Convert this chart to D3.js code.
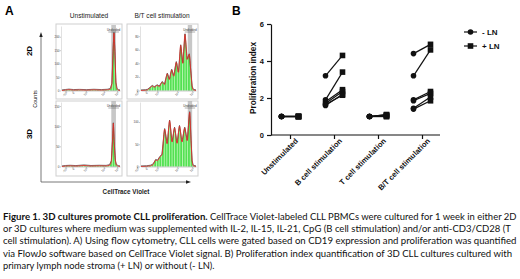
<!DOCTYPE html>
<html>
<head>
<meta charset="utf-8" />
<title>Figure 1</title>
<script src="https://cdn.jsdelivr.net/npm/d3@7"></script>
<style>
  body { margin: 0; background: #fff; }
  svg { display: block; }
</style>
</head>
<body>
<script>
// panel B data
var categories = ['Unstimulated', 'B cell stimulation', 'T cell stimulation', 'B/T cell stimulation'];
var minusLN = [
  [1, 1, 1, 1, 1, 1],
  [3.2, 1.9, 1.8, 1.7, 1.6, 1.65],
  [1, 1, 1, 1, 1, 1],
  [4.4, 3.2, 1.9, 1.85, 1.45, 1.4]
];
var plusLN = [
  [1, 1, 1, 1, 1, 1],
  [4.3, 3.4, 2.45, 2.35, 2.2, 2.15],
  [1.0, 1.05, 1.1, 1.05, 1.0, 1.1],
  [4.9, 4.6, 2.35, 2.25, 2.05, 1.85]
];
var yTicksB = [0, 2, 4, 6];
var seriesNames = ['- LN', '+ LN'];

// panel A histograms: [CellTrace channel (0-100), counts]
var hist2DUnstim = [[0,0],[6,1.5],[12,3],[20,1.2],[30,2],[42,1],[55,2.4],[68,1.2],[78,2.4],[83,5],[86,24],[88,144],[89.6,214],[91.2,144],[93,29],[95,5],[97,1.2],[100,0]];
var hist2DStim = [[0,0],[8,0.3],[12,1],[15,3],[18,5],[20.5,6.7],[24,4.8],[29.6,7.6],[33,5.7],[38.7,12.4],[42.5,8.6],[47.8,24.7],[51.5,16],[55.8,30.4],[59.5,21],[64.2,41.8],[68,26.6],[72.2,66.5],[76,40],[80,82.7],[84,45.6],[87.8,53.2],[90.5,28.5],[93,5.7],[95,1],[100,0]];
var hist3DUnstim = [[0,0],[6,1],[14,1.6],[24,0.8],[38,2.4],[50,1],[64,1.6],[76,1.3],[82,3.2],[85,12.8],[87,61],[88.5,107],[90,61],[92,14],[94,3.2],[97,0.8],[100,0]];
var hist3DStim = [[0,0],[10,0.4],[17,1.5],[22,4.4],[26.7,14.5],[30,13],[34.5,21.8],[38,26],[43,84],[47.5,51],[52,103],[56.5,55],[61,87],[65.5,52],[70,91],[74.5,55],[79.5,87],[84,58],[88.5,122],[91,58],[93,11.6],[95,1.5],[100,0]];
var histYMax = [240, 95, 160, 145];
var histYTicks = [[0, 50, 100, 150, 200], [0, 20, 40, 60, 80], [0, 50, 100, 150], [0, 50, 100]];
var histXTickLabels = ['-10³', '0', '10³', '10⁴', '10⁵'];
var histXTicksUnstim = [6, 18, 41, 72, 95];
var histXTicksStim = [-7, 8.5, 29.6, 66, 93];
var undividedGate = [85, 93];
var colTitles = ['Unstimulated', 'B/T cell stimulation'];
var rowTitles = ['2D', '3D'];

var captionBold = 'Figure 1. 3D cultures promote CLL proliferation.';
var captionLines = [
  'CellTrace Violet-labeled CLL PBMCs were cultured for 1 week in either 2D',
  'or 3D cultures where medium was supplemented with IL-2, IL-15, IL-21, CpG (B cell stimulation) and/or anti-CD3/CD28 (T',
  'cell stimulation). A) Using flow cytometry, CLL cells were gated based on CD19 expression and proliferation was quantified',
  'via FlowJo software based on CellTrace Violet signal. B) Proliferation index quantification of 3D CLL cultures cultured with',
  'primary lymph node stroma (+ LN) or without (- LN).'
];

var width = 520;
var height = 279;
var font = 'Liberation Sans, Arial, sans-serif';
var svg = d3.select('body').append('svg').attr('width', width).attr('height', height)
  .style('font-family', font);

var defs = svg.append('defs');
var pat = defs.append('pattern').attr('id', 'stripes').attr('patternUnits', 'userSpaceOnUse')
  .attr('width', 2.6).attr('height', 10);
pat.append('rect').attr('width', 2.6).attr('height', 10).attr('fill', '#52e052');
pat.append('rect').attr('width', 0.9).attr('height', 10).attr('fill', '#b9f7b2');

svg.append('text').text('A').attr('x', 5).attr('y', 15).attr('font-size', 12).attr('font-weight', 'bold');
svg.append('text').text('B').attr('x', 232).attr('y', 15).attr('font-size', 12).attr('font-weight', 'bold');

// ---------- panel A ----------
var panels = [
  { data: hist2DUnstim, box: [56, 24, 66, 75], xr: [62, 120], base: 90.5, top: 26, ymax: histYMax[0], yt: histYTicks[0], xt: histXTicksUnstim },
  { data: hist2DStim, box: [127, 24, 71, 75], xr: [141, 196], base: 90.5, top: 26, ymax: histYMax[1], yt: histYTicks[1], xt: histXTicksStim },
  { data: hist3DUnstim, box: [56, 101, 66, 75], xr: [62, 120], base: 166.5, top: 102, ymax: histYMax[2], yt: histYTicks[2], xt: histXTicksUnstim },
  { data: hist3DStim, box: [127, 101, 71, 75], xr: [141, 196], base: 166.5, top: 102, ymax: histYMax[3], yt: histYTicks[3], xt: histXTicksStim }
];

panels.forEach(function(p) {
  var g = svg.append('g');
  var x = d3.scaleLinear().domain([0, 100]).range(p.xr);
  var y = d3.scaleLinear().domain([0, p.ymax]).range([p.base, p.top]);

  g.append('rect').attr('x', p.box[0]).attr('y', p.box[1]).attr('width', p.box[2]).attr('height', p.box[3])
    .attr('fill', '#fff').attr('stroke', '#cfcfcf').attr('stroke-width', 1);

  g.append('rect').attr('x', x(undividedGate[0])).attr('y', p.top - 1)
    .attr('width', x(undividedGate[1]) - x(undividedGate[0])).attr('height', p.base - p.top + 1)
    .attr('fill', '#b4b4b4').attr('opacity', 0.75);

  var area = d3.area().x(function(d) { return x(d[0]); }).y0(p.base).y1(function(d) { return y(d[1]); })
    .curve(d3.curveMonotoneX);
  g.append('path').datum(p.data).attr('d', area).attr('fill', 'url(#stripes)');

  var raw = d3.line().x(function(d) { return x(d[0]); }).y(function(d) { return y(d[1]) - 0.6; });
  g.append('path').datum(p.data).attr('d', raw).attr('fill', 'none').attr('stroke', '#333').attr('stroke-width', 0.7);
  var fit = d3.line().x(function(d) { return x(d[0]); }).y(function(d) { return y(d[1]); }).curve(d3.curveMonotoneX);
  g.append('path').datum(p.data).attr('d', fit).attr('fill', 'none').attr('stroke', '#e3302a').attr('stroke-width', 0.9);

  var gx = (x(undividedGate[0]) + x(undividedGate[1])) / 2;
  g.append('line').attr('x1', x(undividedGate[0]) - 3).attr('x2', x(undividedGate[1]) + 3)
    .attr('y1', p.top + 6).attr('y2', p.top + 6).attr('stroke', '#333').attr('stroke-width', 0.4);
  g.append('text').text('Undivided').attr('x', gx).attr('y', p.top + 5).attr('text-anchor', 'middle')
    .attr('font-size', 3).attr('fill', '#333');

  var ax = g.append('g').attr('transform', 'translate(0,' + p.base + ')')
    .call(d3.axisBottom(x).tickValues(p.xt).tickSize(1.5).tickSizeOuter(0)
      .tickFormat(function(d, i) { return histXTickLabels[i]; }));
  ax.select('.domain').attr('stroke', '#777').attr('stroke-width', 0.4);
  ax.selectAll('line').attr('stroke', '#777').attr('stroke-width', 0.4);
  ax.selectAll('text').attr('font-size', 3).attr('fill', '#444').attr('text-anchor', 'end')
    .attr('transform', 'rotate(-45)').attr('dy', '0.3em').attr('dx', '-0.2em').attr('y', 2);

  var ay = g.append('g').attr('transform', 'translate(' + (p.xr[0] - 1) + ',0)')
    .call(d3.axisLeft(y).tickValues(p.yt).tickSize(1.2).tickSizeOuter(0));
  ay.select('.domain').attr('stroke', '#999').attr('stroke-width', 0.3);
  ay.selectAll('line').attr('stroke', '#777').attr('stroke-width', 0.4);
  ay.selectAll('text').attr('font-size', 3).attr('fill', '#444').attr('x', -1.5);
});

svg.selectAll('.coltitle').data(colTitles).enter().append('text')
  .attr('x', function(d, i) { return i === 0 ? 89 : 162; }).attr('y', 17.5)
  .attr('text-anchor', 'middle').attr('font-size', 6.6).attr('fill', '#222').text(function(d) { return d; });

svg.selectAll('.rowtitle').data(rowTitles).enter().append('text')
  .attr('transform', function(d, i) { return 'translate(32,' + (i === 0 ? 51 : 134) + ') rotate(-90)'; })
  .attr('text-anchor', 'middle').attr('font-size', 8).attr('font-weight', 'bold').text(function(d) { return d; });

svg.append('text').attr('transform', 'translate(37,99) rotate(-90)').attr('text-anchor', 'middle')
  .attr('font-size', 5.5).attr('fill', '#222').text('Counts');

svg.append('path').attr('d', 'M41,35V182H188').attr('fill', 'none').attr('stroke', '#555').attr('stroke-width', 0.8);
svg.append('path').attr('d', 'M39.3,37L41,32L42.7,37Z').attr('fill', '#222');
svg.append('path').attr('d', 'M186,180.3L191,182L186,183.7Z').attr('fill', '#222');
svg.append('text').attr('x', 126).attr('y', 194).attr('text-anchor', 'middle')
  .attr('font-size', 6.3).attr('font-weight', 'bold').attr('fill', '#222').text('CellTrace Violet');

// ---------- panel B ----------
var xB = d3.scalePoint().domain(categories).range([290, 422]);
var yB = d3.scaleLinear().domain([0, 6]).range([135, 24]);
var pairOffset = 8.5;

var yAxisB = svg.append('g').attr('transform', 'translate(271,0)')
  .call(d3.axisLeft(yB).tickValues(yTicksB).tickSize(4).tickSizeOuter(0).tickFormat(d3.format('d')));
yAxisB.selectAll('path,line').attr('stroke', '#111').attr('stroke-width', 1.2);
yAxisB.selectAll('text').attr('font-size', 7.5).attr('font-weight', 'bold').attr('fill', '#111');

var xAxisB = svg.append('g').attr('transform', 'translate(0,135)')
  .call(d3.axisBottom(xB).tickSize(4).tickSizeOuter(0));
xAxisB.select('.domain').attr('d', 'M271,0H440');
xAxisB.selectAll('path,line').attr('stroke', '#111').attr('stroke-width', 1.2);
xAxisB.selectAll('text').attr('font-size', 7.6).attr('font-weight', 'bold').attr('fill', '#111')
  .attr('text-anchor', 'end').attr('transform', 'rotate(-45)').attr('x', 1).attr('y', 8).attr('dy', '0.3em');

svg.append('text').attr('transform', 'translate(256,78) rotate(-90)').attr('text-anchor', 'middle')
  .attr('font-size', 8.2).attr('font-weight', 'bold').attr('fill', '#111').text('Proliferation index');

var pairs = [];
categories.forEach(function(c, i) {
  minusLN[i].forEach(function(v, j) {
    pairs.push({ cat: c, a: v, b: plusLN[i][j] });
  });
});

svg.selectAll('.pair').data(pairs).enter().append('line')
  .attr('x1', function(d) { return xB(d.cat) - pairOffset; }).attr('y1', function(d) { return yB(d.a); })
  .attr('x2', function(d) { return xB(d.cat) + pairOffset; }).attr('y2', function(d) { return yB(d.b); })
  .attr('stroke', '#111').attr('stroke-width', 1.2);

svg.selectAll('.minus').data(pairs).enter().append('circle')
  .attr('cx', function(d) { return xB(d.cat) - pairOffset; }).attr('cy', function(d) { return yB(d.a); })
  .attr('r', 2.8).attr('fill', '#111');

var sq = 5.6;
svg.selectAll('.plus').data(pairs).enter().append('rect')
  .attr('x', function(d) { return xB(d.cat) + pairOffset - sq / 2; }).attr('y', function(d) { return yB(d.b) - sq / 2; })
  .attr('width', sq).attr('height', sq).attr('fill', '#111');

var legend = svg.selectAll('.legend').data(seriesNames).enter().append('g')
  .attr('transform', function(d, i) { return 'translate(464,' + (32 + i * 14) + ')'; });
legend.append('line').attr('x1', 0).attr('x2', 13).attr('stroke', '#111').attr('stroke-width', 1.2);
legend.each(function(d, i) {
  var g = d3.select(this);
  if (i === 0) g.append('circle').attr('cx', 6.5).attr('r', 2.8).attr('fill', '#111');
  else g.append('rect').attr('x', 6.5 - sq / 2).attr('y', -sq / 2).attr('width', sq).attr('height', sq).attr('fill', '#111');
});
legend.append('text').attr('x', 18).attr('dy', '0.35em').attr('font-size', 8).attr('font-weight', 'bold')
  .attr('fill', '#111').text(function(d) { return d; });

// ---------- caption ----------
// squeeze each line horizontally so it spans the same width as in the figure
var capFont = 'Lato, Open Sans, sans-serif';
var lineY = [219.5, 232, 244.3, 256.6, 268.8];
var lineStart = [210, 3, 3, 3, 3];
var lineEnd = [517, 512, 517, 513, 215];

function fitLine(sel, x0, x1, y) {
  var len = sel.node().getComputedTextLength();
  var s = (x1 - x0) / len;
  sel.attr('transform', 'translate(' + x0 + ',' + y + ') scale(' + s + ',1)');
}

var boldLine = svg.append('text').attr('font-family', capFont).attr('font-size', 10)
  .attr('font-weight', 'bold').attr('fill', '#111').text(captionBold);
fitLine(boldLine, 3, 208, lineY[0]);

svg.selectAll('.cap').data(captionLines).enter().append('text')
  .attr('class', 'cap')
  .attr('font-family', capFont).attr('font-size', 10).attr('fill', '#111')
  .text(function(d) { return d; })
  .each(function(d, i) { fitLine(d3.select(this), lineStart[i], lineEnd[i], lineY[i]); });
</script>
</body>
</html>
